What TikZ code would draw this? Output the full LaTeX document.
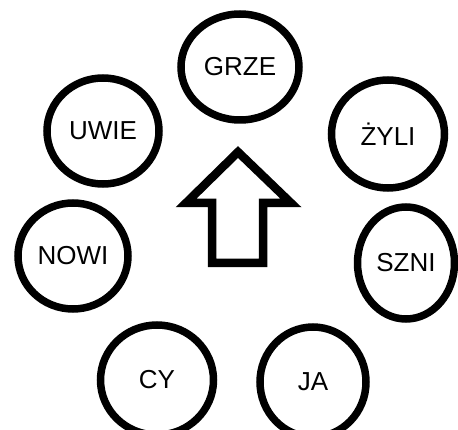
\documentclass[tikz,border=0pt]{standalone}
\usepackage{fontspec}
\setmainfont{Liberation Sans}
\usetikzlibrary{shapes.geometric}
\tikzset{ring/.style={draw,ellipse,line width=7.5pt,inner sep=0pt,font=\fontsize{26}{26}\selectfont}}
\begin{document}
\begin{tikzpicture}[x=1pt,y=1pt,yscale=-1,xscale=1]
\useasboundingbox (0,0) rectangle (458,430);
\node [ring,minimum width=118pt,minimum height=106pt] (grze) at (240,67) {GRZE};
\node [ring,minimum width=113pt,minimum height=108pt] (zyli) at (388,134) {ŻYLI};
\node [ring,minimum width=97pt,minimum height=112pt] (szni) at (406,263) {SZNI};
\node [ring,minimum width=106pt,minimum height=110pt] (ja) at (313,382) {JA};
\node [ring,minimum width=113pt,minimum height=110pt] (cy) at (157,380) {CY};
\node [ring,minimum width=110pt,minimum height=106pt] (nowi) at (73,256) {NOWI};
\node [ring,minimum width=112pt,minimum height=106pt] (uwie) at (103,131) {UWIE};
% the arrow in the middle
\draw [line width=8.5pt,line join=miter] (238,152) -- (291,203) -- (263,203) -- (263,263) -- (212,263) -- (212,203) -- (186,203) -- cycle;
\end{tikzpicture}
\end{document}
